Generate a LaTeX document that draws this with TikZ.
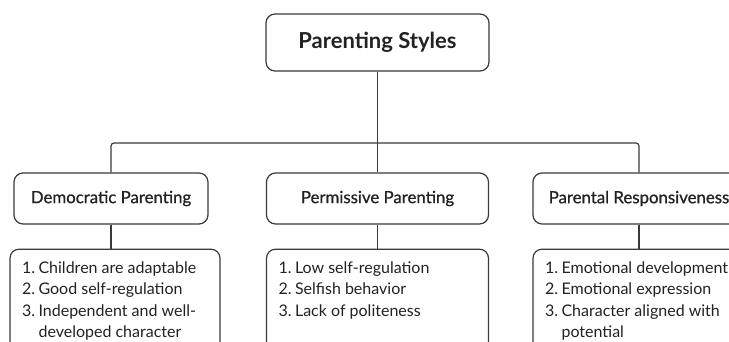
\documentclass[tikz,border=0pt]{standalone}
\usepackage{fontspec}
\setmainfont{Lato}
\newfontfamily\mediumfont[FakeBold=0.8]{Lato}
\usetikzlibrary{positioning}

\definecolor{linegray}{HTML}{3A3A3A}
\definecolor{textgray}{HTML}{222222}

\newcommand{\itemlist}[2]{\parbox[t]{#1}{\begin{tabular}[t]{@{}l@{\hspace{3.5pt}}l@{}}#2\end{tabular}}}

\begin{document}
\begin{tikzpicture}[x=1pt,y=1pt,
    title/.style={draw=linegray, line width=1.2pt, rounded corners=9pt, fill=white,
    minimum width=223pt, minimum height=57pt, text=textgray,
    font=\fontsize{22}{26}\selectfont\bfseries},
    group/.style={draw=linegray, line width=1.2pt, rounded corners=9pt,
    minimum height=51pt, text=textgray, font=\fontsize{16.8}{20}\mediumfont},
    detail/.style={draw=linegray, line width=1.2pt, rounded corners=9pt,
    inner xsep=12pt, inner ysep=12pt, text height=12pt, text depth=100pt,
    text=textgray, font=\fontsize{16}{21.5}\selectfont, node distance=24pt}]
    \useasboundingbox (0,0) rectangle (729,-342);

    \node[title] (styles) at (377.5,-42.5) {Parenting Styles};
    \node[group, minimum width=194pt] (democratic) at (111,-198.5) {Democratic Parenting};
    \node[group, minimum width=222pt] (permissive) at (377.5,-198.5) {Permissive Parenting};
    \node[group, minimum width=212pt] (responsive) at (639,-198.5) {Parental Responsiveness};

    \node[detail, below=of democratic, xshift=4pt] (democratic-list)
    {\itemlist{186pt}{1. & Children are adaptable\\ 2. & Good self-regulation\\
    3. & Independent and well-\\ & developed character}};
    \node[detail, below=of permissive] (permissive-list)
    {\itemlist{198pt}{1. & Low self-regulation\\ 2. & Selfish behavior\\
    3. & Lack of politeness}};
    \node[detail, below=of responsive] (responsive-list)
    {\itemlist{188pt}{1. & Emotional development\\ 2. & Emotional expression\\
    3. & Character aligned with\\ & potential}};

    \coordinate (bus) at (0,-143);

\draw[line width=1.2pt, linegray] (styles) -- (permissive);
\draw[line width=1.2pt, linegray, rounded corners=3pt] (democratic.north) -- (democratic.north |- bus) -| (responsive.north);
\draw[line width=1.2pt, linegray] (democratic) -- (democratic |- democratic-list.north);
\draw[line width=1.2pt, linegray] (permissive) -- (permissive-list);
\draw[line width=1.2pt, linegray] (responsive) -- (responsive-list);
\end{tikzpicture}
\end{document}
